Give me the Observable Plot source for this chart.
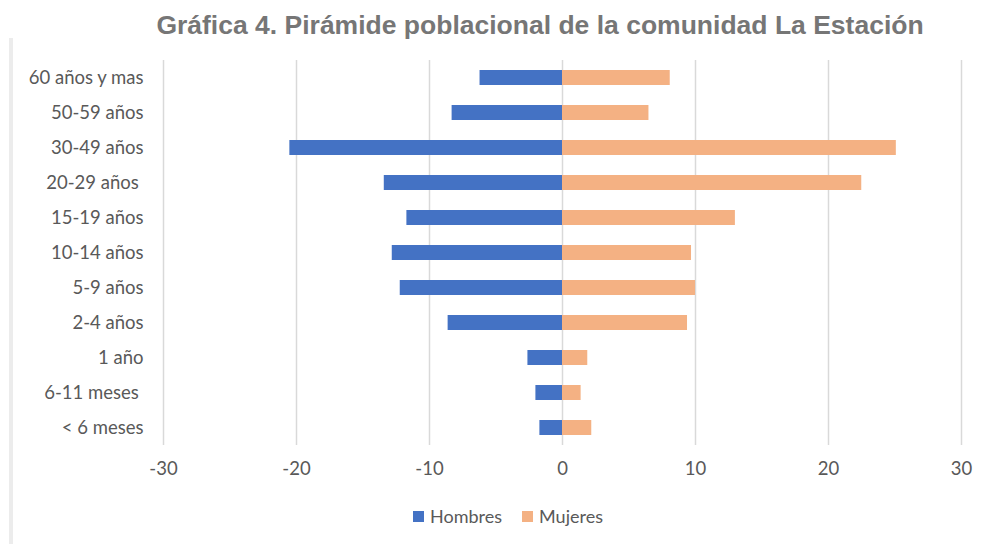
<!DOCTYPE html>
<html>
<head>
<meta charset="utf-8">
<script src="https://cdn.jsdelivr.net/npm/d3@7"></script>
<script src="https://cdn.jsdelivr.net/npm/@observablehq/plot@0.6"></script>
<style>
  html, body { margin: 0; padding: 0; background: #fff; }
  #wrap { position: relative; width: 987px; height: 544px; overflow: hidden; }
  #border { position: absolute; left: 9px; top: 38px; width: 4px; height: 506px; background: #ececec; }
  #title { position: absolute; left: 0; top: 10px; width: 1080px; text-align: center;
           font: bold 26.5px "Liberation Sans", Arial, sans-serif; color: #767676; }
  #chart { position: absolute; left: 0; top: 50px; }
  #chart svg text { white-space: pre; }
  #legend { position: absolute; left: 0; top: 505px; width: 1016px; display: flex; justify-content: center;
            align-items: center; font: 18px Lato, "Open Sans", sans-serif; color: #595959; }
  .sw { display: inline-block; width: 11px; height: 11px; margin-right: 6px; }
  .item { display: flex; align-items: center; margin: 0 10px; }
</style>
</head>
<body>
<div id="wrap">
  <div id="border"></div>
  <div id="title">Gráfica 4. Pirámide poblacional de la comunidad La Estación</div>
  <div id="chart"></div>
  <div id="legend"></div>
</div>
<script>
const categories = ["60 años y mas", "50-59 años", "30-49 años", "20-29 años ", "15-19 años", "10-14 años", "5-9 años", "2-4 años", "1 año", "6-11 meses ", "< 6 meses"];
const hombres = [6.2, 8.3, 20.5, 13.4, 11.7, 12.8, 12.2, 8.6, 2.6, 2.0, 1.7];
const mujeres = [8.1, 6.5, 25.1, 22.5, 13.0, 9.7, 10.0, 9.4, 1.9, 1.4, 2.2];
const series = ["Hombres", "Mujeres"];
const colors = ["#4472C4", "#F4B183"];
const xTicks = [-30, -20, -10, 0, 10, 20, 30];

const rows = [];
categories.forEach((c, i) => {
  rows.push({grupo: c, sexo: series[0], valor: -hombres[i]});
  rows.push({grupo: c, sexo: series[1], valor: mujeres[i]});
});

const chart = Plot.plot({
  width: 987,
  height: 435,
  marginTop: 10,
  marginBottom: 40,
  marginLeft: 163,
  marginRight: 26,
  style: {fontFamily: "Lato, 'Open Sans', sans-serif", fontSize: "18.5px", color: "#595959", background: "transparent"},
  x: {domain: [-30, 30], ticks: xTicks, tickSize: 0, tickPadding: 16, label: null, tickFormat: d => String(d)},
  y: {domain: categories, paddingInner: 0.57, paddingOuter: 0.285, tickSize: 0, tickPadding: 20, label: null},
  color: {domain: series, range: colors},
  marks: [
    Plot.ruleX(xTicks, {stroke: "#d9d9d9", strokeWidth: 1.5}),
    Plot.barX(rows, {y: "grupo", x: "valor", fill: "sexo"})
  ]
});
document.getElementById("chart").appendChild(chart);

const legend = document.getElementById("legend");
series.forEach((s, i) => {
  const item = document.createElement("span");
  item.className = "item";
  const sw = document.createElement("span");
  sw.className = "sw";
  sw.style.background = colors[i];
  item.appendChild(sw);
  item.appendChild(document.createTextNode(s));
  legend.appendChild(item);
});
</script>
</body>
</html>
